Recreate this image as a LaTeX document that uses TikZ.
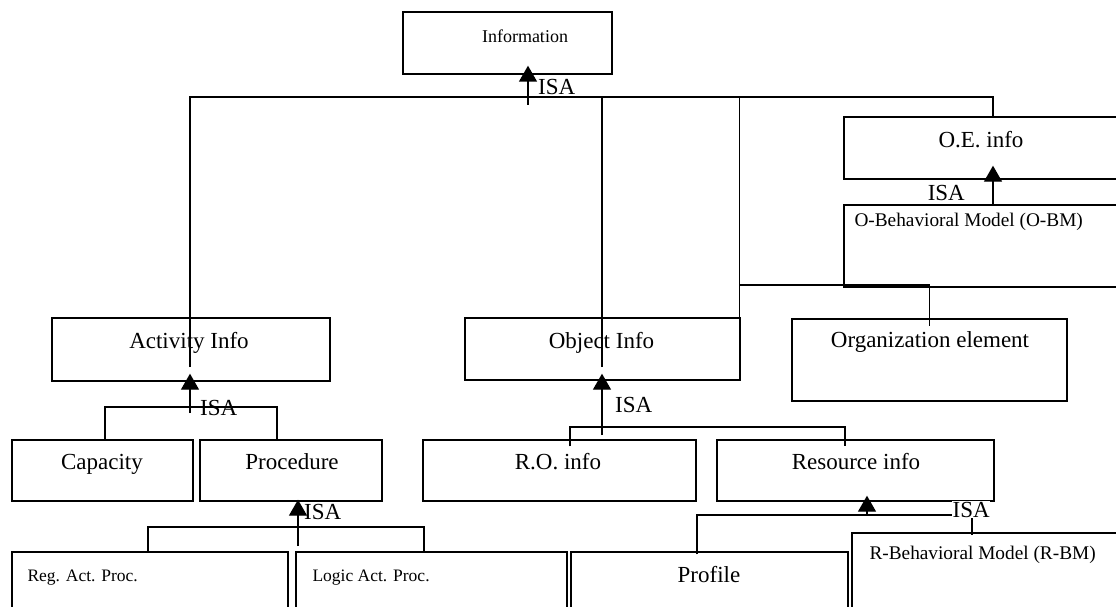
\documentclass[tikz,border=0pt]{standalone}
\usepackage{fontspec}
\setmainfont{Liberation Serif}
\usetikzlibrary{arrows.meta}
\begin{document}
\begin{tikzpicture}[x=1pt,y=-1pt,
  box/.style={draw, line width=1.4pt, rectangle, inner sep=0pt},
  ln/.style={line width=1.4pt},
  arr/.style={line width=1.4pt, -{Triangle[width=18pt,length=16pt]}},
  big/.style={font=\fontsize{23}{27}\selectfont, inner sep=0pt},
  mid/.style={font=\fontsize{18}{22}\selectfont, inner sep=0pt},
  sml/.style={font=\fontsize{17.5}{21}\selectfont, inner sep=0pt},
  bm/.style={font=\fontsize{19.3}{23}\selectfont, inner sep=0pt},
  isa/.style={font=\fontsize{23}{27}\selectfont, inner sep=0pt}
]
\clip (0,0) rectangle (1116,607);

% ---- boxes ----
\node[box, minimum width=209pt, minimum height=62pt,
  label={[mid, anchor=base, xshift=17.5pt, yshift=-31pt]north:Information}] (info) at (507.5,43) {};
\node[box, minimum width=278pt, minimum height=63pt,
  label={[big, anchor=base, xshift=-2pt, yshift=-31pt]north:Activity Info}] (act) at (191,349.5) {};
\node[box, minimum width=275pt, minimum height=62pt,
  label={[big, anchor=base, xshift=-1pt, yshift=-31pt]north:Object Info}] (obj) at (602.5,349) {};
\node[box, minimum width=275pt, minimum height=82pt,
  label={[big, anchor=base, xshift=0.5pt, yshift=-29pt]north:Organization element}] (org) at (929.5,360) {};
\node[box, minimum width=298pt, minimum height=62pt,
  label={[big, anchor=base, xshift=-12pt, yshift=-31pt]north:O.E. info}] (oe) at (993,148) {};
\node[box, minimum width=298pt, minimum height=82pt,
  label={[bm, anchor=base west, xshift=11pt, yshift=-22pt]north west:O-Behavioral Model (O-BM)}] (obm) at (993,246) {};
\node[box, minimum width=181pt, minimum height=61pt,
  label={[big, anchor=base, xshift=-0.5pt, yshift=-30pt]north:Capacity}] (cap) at (102.5,470.5) {};
\node[box, minimum width=182pt, minimum height=61pt,
  label={[big, anchor=base, xshift=1pt, yshift=-30pt]north:Procedure}] (proc) at (291,470.5) {};
\node[box, minimum width=273pt, minimum height=61pt,
  label={[big, anchor=base, xshift=-1.5pt, yshift=-30pt]north:R.O. info}] (ro) at (559.5,470.5) {};
\node[box, minimum width=277pt, minimum height=61pt,
  label={[big, anchor=base, xshift=0.5pt, yshift=-30pt]north:Resource info}] (res) at (855.5,470.5) {};
\node[box, minimum width=276pt, minimum height=76pt,
  label={[sml, anchor=base west, xshift=16pt, yshift=-30pt]north west:Reg. Act. Proc.}] (reg) at (150,590) {};
\node[box, minimum width=271pt, minimum height=76pt,
  label={[sml, anchor=base west, xshift=17pt, yshift=-30pt]north west:Logic Act. Proc.}] (logic) at (431.5,590) {};
\node[box, minimum width=277pt, minimum height=76pt,
  label={[big, anchor=base, xshift=-0.5pt, yshift=-31pt]north:Profile}] (prof) at (709.5,590) {};
\node[box, minimum width=290pt, minimum height=95pt,
  label={[bm, anchor=base west, xshift=18pt, yshift=-27pt]north west:R-Behavioral Model (R-BM)}] (rbm) at (997,580.5) {};

% ---- ISA hierarchy under Information ----
\coordinate (topbar) at (0,97);
\coordinate (actin) at ([xshift=-1pt,yshift=-17.5pt]act.center);
\coordinate (objin) at ([xshift=-0.5pt,yshift=-18pt]obj.center);
\coordinate (objright) at ([xshift=-1.5pt]obj.south east);
\draw[ln] (actin) |- (oe.north |- topbar) -- (oe.north);
\draw[ln] (objin) -- (objin |- topbar);
\draw[ln] (objright |- topbar) -- (objright);
\coordinate (orgbar) at (0,285);
\draw[ln] (objright |- orgbar) -| ([yshift=-8pt]org.north);
\coordinate (infoisa) at (528,105);
\draw[arr, shorten >=-9pt] (infoisa) -- (infoisa |- info.south);
\node[isa, anchor=base west] (isa1) at (538,95) {ISA};

% ---- O-BM is an O.E. info ----
\draw[arr, shorten >=-14pt] (obm.north) -- (oe.south);
\node[isa, anchor=base east] (isa2) at (965,200) {ISA};

% ---- Activity Info subtypes ----
\coordinate (actisa) at (190,413);
\draw[arr, shorten >=-8pt] (actisa) -- (actisa |- act.south);
\coordinate (actbar) at (0,407);
\coordinate (capup) at ([xshift=2.5pt]cap.north);
\coordinate (procup) at ([xshift=-14pt]proc.north);
\draw[ln] (capup) |- (procup |- actbar) -- (procup);
\node[isa, anchor=base west] (isa3) at (200,415) {ISA};

% ---- Object Info subtypes ----
\coordinate (objisa) at (602,435);
\draw[arr, shorten >=-7pt] (objisa) -- (objisa |- obj.south);
\coordinate (objbar) at (0,427);
\coordinate (roup) at ([xshift=10.5pt,yshift=-7pt]ro.north);
\coordinate (resup) at ([xshift=-10.5pt,yshift=-7pt]res.north);
\draw[ln] (roup) |- (resup |- objbar) -- (resup);
\node[isa, anchor=base west] (isa4) at (615,412) {ISA};

% ---- Procedure subtypes ----
\coordinate (procisa) at (298,546);
\draw[arr, shorten >=-2pt] (procisa) -- (procisa |- proc.south);
\coordinate (procbar) at (0,527);
\coordinate (regup) at ([xshift=-2pt]reg.north);
\coordinate (logup) at ([xshift=-7.5pt]logic.north);
\draw[ln] (regup) |- (logup |- procbar) -- (logup);
\node[isa, anchor=base west] (isa5) at (304,519) {ISA};

% ---- Resource info subtypes ----
\coordinate (resisa) at (867,515);
\draw[arr, shorten >=-6pt] (resisa) -- (resisa |- res.south);
\coordinate (resbar) at (0,515);
\coordinate (profup) at ([xshift=-12.5pt,yshift=-3pt]prof.north);
\coordinate (rbmup) at ([xshift=-25pt,yshift=-3pt]rbm.north);
\draw[ln] (profup) |- (rbmup |- resbar) -- (rbmup);
\node[isa, anchor=base west, fill=white, inner sep=0.5pt] (isa6) at (952,517) {ISA};
\end{tikzpicture}
\end{document}
